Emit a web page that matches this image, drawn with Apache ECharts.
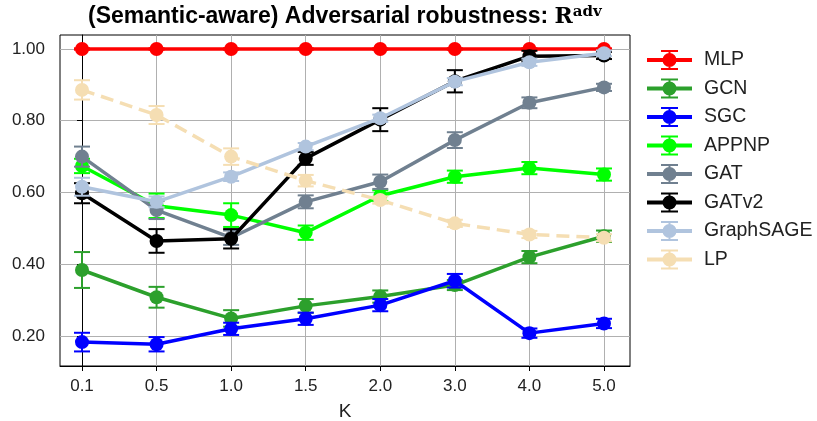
<!DOCTYPE html>
<html>
<head>
<meta charset="utf-8">
<script src="https://cdn.jsdelivr.net/npm/echarts@6/dist/echarts.min.js"></script>
<style>
  html, body { margin: 0; padding: 0; background: #fff; }
  #chart { width: 817px; height: 421px; }
</style>
</head>
<body>
<div id="chart"></div>
<script>
// Robustness under semantic-aware attacks, per model, against budget K
const kLabels = ['0.1', '0.5', '1.0', '1.5', '2.0', '3.0', '4.0', '5.0'];

const models = ['MLP', 'GCN', 'SGC', 'APPNP', 'GAT', 'GATv2', 'GraphSAGE', 'LP'];

const mlpMean       = [1.000, 1.000, 1.000, 1.000, 1.000, 1.000, 1.000, 1.000];
const mlpErr        = [0.002, 0.002, 0.002, 0.002, 0.002, 0.002, 0.002, 0.002];
const gcnMean       = [0.384, 0.308, 0.249, 0.284, 0.310, 0.342, 0.420, 0.478];
const gcnErr        = [0.050, 0.029, 0.023, 0.019, 0.017, 0.014, 0.017, 0.016];
const sgcMean       = [0.183, 0.177, 0.220, 0.248, 0.286, 0.354, 0.208, 0.235];
const sgcErr        = [0.026, 0.020, 0.017, 0.017, 0.017, 0.019, 0.013, 0.013];
const appnpMean     = [0.674, 0.563, 0.537, 0.488, 0.591, 0.644, 0.668, 0.650];
const appnpErr      = [0.020, 0.034, 0.033, 0.020, 0.015, 0.017, 0.017, 0.017];
const gatMean       = [0.700, 0.551, 0.474, 0.574, 0.630, 0.746, 0.850, 0.893];
const gatErr        = [0.028, 0.025, 0.020, 0.018, 0.020, 0.022, 0.015, 0.010];
const gatv2Mean     = [0.598, 0.465, 0.471, 0.695, 0.803, 0.910, 0.980, 0.982];
const gatv2Err      = [0.028, 0.033, 0.027, 0.018, 0.032, 0.031, 0.015, 0.010];
const graphsageMean = [0.616, 0.574, 0.644, 0.728, 0.807, 0.909, 0.963, 0.988];
const graphsageErr  = [0.025, 0.015, 0.012, 0.010, 0.010, 0.010, 0.010, 0.008];
const lpMean        = [0.886, 0.816, 0.700, 0.633, 0.579, 0.514, 0.483, 0.474];
const lpErr         = [0.027, 0.025, 0.023, 0.016, 0.010, 0.010, 0.010, 0.010];

const yTicks = [0.2, 0.4, 0.6, 0.8, 1.0];

const seriesMeans = [mlpMean, gcnMean, sgcMean, appnpMean, gatMean, gatv2Mean, graphsageMean, lpMean];
const seriesErrs  = [mlpErr, gcnErr, sgcErr, appnpErr, gatErr, gatv2Err, graphsageErr, lpErr];
const colors = ['#ff0000', '#2ca02c', '#0000ff', '#00ff00', '#708090', '#000000', '#b0c4de', '#f5deb3'];

const FONT = '"Liberation Sans", Arial, Helvetica, sans-serif';
const xIdx = kLabels.map((_, i) => i);

// legend glyph: line, marker, error bar with caps
const legendIcon = 'path://M0,8 L45,8 L45,12 L0,12 Z ' +
  'M15.5,10 A7,7 0 1,1 29.5,10 A7,7 0 1,1 15.5,10 Z ' +
  'M21.5,0 L23.5,0 L23.5,20 L21.5,20 Z ' +
  'M14,0 L31,0 L31,2 L14,2 Z M14,18 L31,18 L31,20 L14,20 Z';

function errorBarSeries(i) {
  const mean = seriesMeans[i], err = seriesErrs[i], color = colors[i];
  return {
    type: 'custom',
    name: models[i],
    z: 10 + i,
    silent: true,
    itemStyle: { color: color },
    data: mean.map((m, k) => [k, m - err[k], m + err[k]]),
    encode: { x: 0, y: [1, 2] },
    renderItem: function (params, api) {
      const x = api.value(0);
      const lo = api.coord([x, api.value(1)]);
      const hi = api.coord([x, api.value(2)]);
      const cap = 8;
      const st = { stroke: color, lineWidth: 2 };
      return {
        type: 'group',
        children: [
          { type: 'line', shape: { x1: lo[0], y1: lo[1], x2: hi[0], y2: hi[1] }, style: st },
          { type: 'line', shape: { x1: lo[0] - cap, y1: lo[1], x2: lo[0] + cap, y2: lo[1] }, style: st },
          { type: 'line', shape: { x1: hi[0] - cap, y1: hi[1], x2: hi[0] + cap, y2: hi[1] }, style: st }
        ]
      };
    }
  };
}

function lineSeries(i) {
  return {
    type: 'line',
    name: models[i],
    z: 10 + i,
    data: seriesMeans[i].map((m, k) => [k, m]),
    symbol: 'circle',
    symbolSize: 14,
    showSymbol: true,
    itemStyle: { color: colors[i] },
    lineStyle: { color: colors[i], width: 3.5, type: models[i] === 'LP' ? [13, 7] : 'solid' },
    emphasis: { disabled: true }
  };
}

const series = [];
models.forEach((_, i) => { series.push(errorBarSeries(i)); series.push(lineSeries(i)); });

const chart = echarts.init(document.getElementById('chart'), null, { renderer: 'canvas' });
chart.setOption({
  animation: false,
  backgroundColor: '#ffffff',
  title: {
    left: 83,
    top: 0,
    text: '{b|(Semantic-aware) Adversarial robustness: }{r|R}{s|adv}',
    textStyle: {
      rich: {
        b: { fontFamily: FONT, fontWeight: 'bold', fontSize: 23, color: '#000' },
        r: { fontFamily: '"DejaVu Serif", serif', fontSize: 22, color: '#000' },
        s: { fontFamily: '"DejaVu Serif", serif', fontSize: 15, color: '#000', verticalAlign: 'top', padding: [0, 0, 9, 0] }
      }
    }
  },
  legend: {
    orient: 'vertical',
    left: 647,
    top: 50,
    padding: 0,
    itemWidth: 45,
    itemHeight: 20,
    itemGap: 8.5,
    icon: legendIcon,
    data: models,
    textStyle: { fontFamily: FONT, fontSize: 19.5, color: '#222', padding: [0, 0, 0, 7] },
    selectedMode: false
  },
  grid: {
    left: 60, right: 187, top: 35, bottom: 55,
    outerBoundsMode: 'none',
    containLabel: false,
    show: true, borderColor: '#000', borderWidth: 1
  },
  xAxis: {
    type: 'value',
    min: -0.295,
    max: 7.349,
    name: 'K',
    nameLocation: 'middle',
    nameGap: 36,
    nameTextStyle: { fontFamily: FONT, fontSize: 19, color: '#222' },
    axisLine: { show: true, lineStyle: { color: '#000', width: 1 } },
    axisTick: { show: true, length: 5, customValues: xIdx, lineStyle: { color: '#000' } },
    axisLabel: {
      customValues: xIdx, margin: 12,
      fontFamily: FONT, fontSize: 17, color: '#222',
      formatter: v => kLabels[Math.round(v)]
    },
    splitLine: { show: true, lineStyle: { color: '#b0b0b0', width: 1 } }
  },
  yAxis: {
    type: 'value',
    min: 0.1164,
    max: 1.039,
    axisLine: { show: true, lineStyle: { color: '#000', width: 1 } },
    axisTick: { show: true, length: 5, customValues: yTicks, lineStyle: { color: '#000' } },
    axisLabel: {
      customValues: yTicks, margin: 15,
      fontFamily: FONT, fontSize: 17, color: '#222',
      formatter: v => v.toFixed(2)
    },
    splitLine: { show: true, lineStyle: { color: '#b0b0b0', width: 1 } }
  },
  series: series
});
</script>
</body>
</html>
